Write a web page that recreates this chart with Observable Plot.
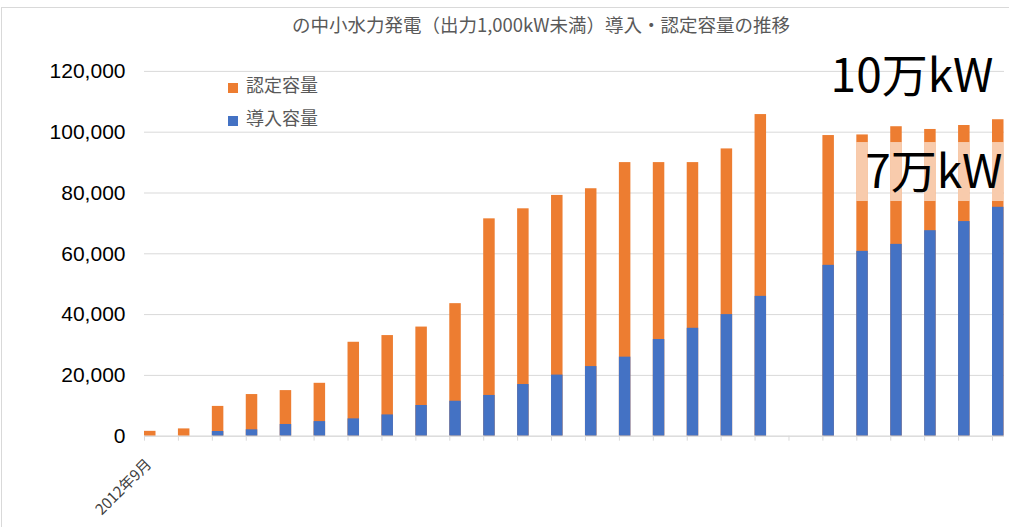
<!DOCTYPE html>
<html>
<head>
<meta charset="utf-8">
<script src="https://cdn.jsdelivr.net/npm/d3@7"></script>
<script src="https://cdn.jsdelivr.net/npm/@observablehq/plot@0.6"></script>
<style>
  body { margin: 0; background: #fff; }
  #wrap { position: relative; width: 1009px; height: 527px; overflow: hidden; background: #fff; }
  #frame { position: absolute; left: 1px; top: 7px; width: 1100px; height: 600px; border-left: 1px solid #d9d9d9; border-top: 1px solid #d9d9d9; }
  #chart { position: absolute; left: 0; top: 0; }
  #title { position: absolute; left: 0; top: 14px; width: 1082px; text-align: center; font: 18.5px/20px "Noto Sans CJK JP", sans-serif; color: #595959; white-space: nowrap; }
  .leg { position: absolute; left: 228px; height: 20px; font: 18px/20px "Noto Sans CJK JP", sans-serif; color: #595959; white-space: nowrap; }
  .leg .sw { position: absolute; left: 0; top: 9px; width: 10px; height: 10px; }
  .leg span.t { position: absolute; left: 18px; top: 0; }
</style>
</head>
<body>
<div id="wrap">
  <div id="frame"></div>
  <div id="chart"></div>
  <div id="title">の中小水力発電（出力1,000kW未満）導入・認定容量の推移</div>
  <div class="leg" style="top:74px"><div class="sw" style="background:#ED7D31"></div><span class="t">認定容量</span></div>
  <div class="leg" style="top:107px"><div class="sw" style="background:#4472C4"></div><span class="t">導入容量</span></div>
</div>
<script>
// ---- data ----
const periods = ["2012年9月","2012年12月","2013年3月","2013年6月","2013年9月","2013年12月",
  "2014年3月","2014年6月","2014年9月","2014年12月","2015年3月","2015年6月","2015年9月","2015年12月",
  "2016年3月","2016年6月","2016年9月","2016年12月","2017年3月","2017年6月","2017年9月","2017年12月",
  "2018年3月","2018年6月","2018年9月","2018年12月"];
const shownLabels = ["2012年9月"];
const certified = [1600, 2400, 9800, 13700, 15000, 17400, 30900, 33100, 35900, 43600, 71500, 74800,
  79200, 81400, 90000, 90000, 90000, 94500, 105800, null, 98900, 99100, 101800, 100900, 102200, 104100];
const installed = [0, 0, 1550, 2100, 3850, 4800, 5700, 7000, 10100, 11500, 13400, 17000,
  20100, 22900, 26000, 31800, 35500, 40000, 46000, null, 56200, 60800, 63100, 67600, 70600, 75300];
const yTicks = [0, 20000, 40000, 60000, 80000, 100000, 120000];
const highlightPeriods = ["2017年12月","2018年3月","2018年6月","2018年9月","2018年12月"];
const highlightLow = 77200;
const highlightHigh = 96600;
const noteLabels = ["10万kW", "7万kW"];
const notePeriods = ["2018年12月", "2018年12月"];
const noteValues = [113100, 81800];

// ---- tables built from the arrays ----
const data = periods.map((p, i) => ({period: p, certified: certified[i], installed: installed[i]}));
const highlight = highlightPeriods.map(p => ({period: p, lo: highlightLow, hi: highlightHigh}));
const notes = noteLabels.map((l, i) => ({label: l, period: notePeriods[i], value: noteValues[i]}));

const bw = 33.92;       // category step in px
const barW = 11.5;      // bar width in px

const chart = Plot.plot({
  width: 1009,
  height: 527,
  marginLeft: 144,
  marginRight: 5,
  marginTop: 71,
  marginBottom: 91.3,
  style: {background: "transparent", overflow: "visible", fontFamily: "'Liberation Sans', Arial, sans-serif", fontSize: "21px"},
  x: {type: "band", domain: periods, range: [144, 144 + periods.length * bw], padding: 0, round: false, axis: null},
  y: {domain: [0, 120000], range: [435.7, 70.9], axis: null},
  marks: [
    Plot.gridY(yTicks, {stroke: "#d9d9d9", strokeOpacity: 1, strokeWidth: 1}),
    Plot.barY(data, {x: "period", y: "certified", fill: "#ED7D31", insetRight: bw - barW}),
    Plot.barY(data, {x: "period", y: "installed", fill: "#4472C4", insetRight: bw - barW}),
    Plot.barY(highlight, {x: "period", y1: "lo", y2: "hi", fill: "#ffffff", fillOpacity: 0.6, insetRight: bw - barW}),
    Plot.ruleY([0], {stroke: "#d9d9d9"}),
    Plot.axisX({tickSize: 5, stroke: "#d9d9d9", strokeOpacity: 1, tickFormat: () => "", label: null, dx: -bw / 2}),
    Plot.axisY(yTicks, {tickSize: 0, tickPadding: 19, tickFormat: d3.format(","), label: null, fontSize: 21, fill: "#000", fontFamily: "'Liberation Sans', Arial, sans-serif"}),
    Plot.text(shownLabels, {x: d => d, frameAnchor: "bottom", rotate: -45, textAnchor: "end", lineAnchor: "bottom",
      dx: -9, dy: 29, fontSize: 15, fontFamily: "Noto Sans CJK JP", fill: "#404040"}),
    Plot.text(notes.slice(0, 1), {x: "period", y: "value", text: "label", textAnchor: "end", lineAnchor: "bottom",
      dx: -16, fontSize: 46, fontFamily: "Noto Sans CJK JP", fill: "#000"}),
    Plot.text(notes.slice(1, 2), {x: "period", y: "value", text: "label", textAnchor: "end", lineAnchor: "bottom",
      dx: -7, fontSize: 46, fontFamily: "Noto Sans CJK JP", fill: "#000"})
  ]
});
document.getElementById("chart").appendChild(chart);
</script>
</body>
</html>
